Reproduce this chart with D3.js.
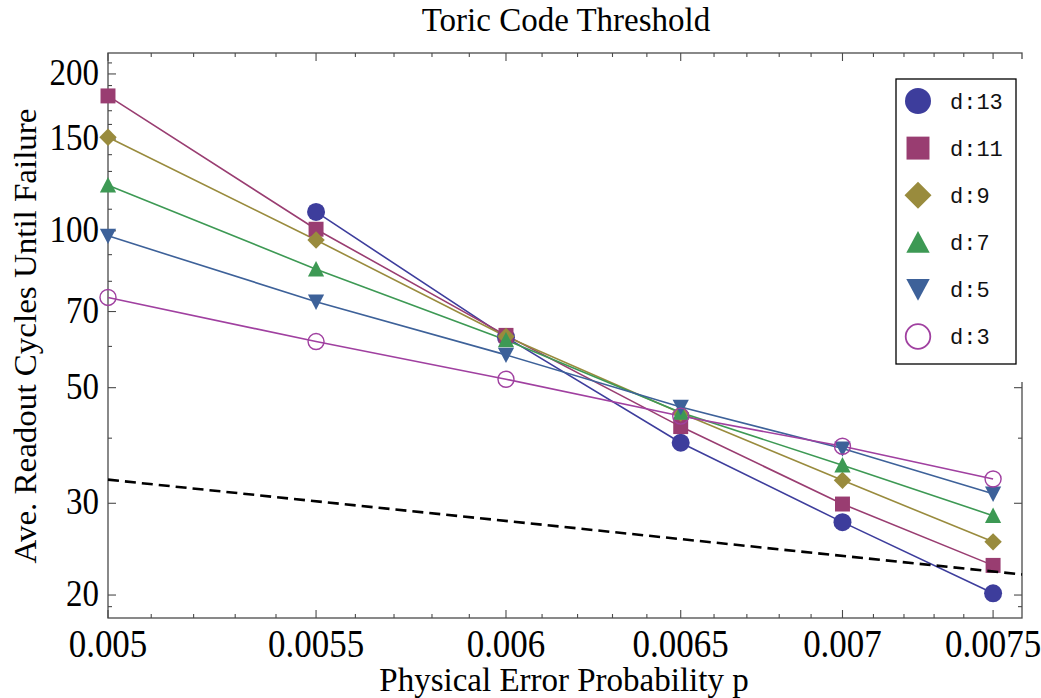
<!DOCTYPE html>
<html>
<head>
<meta charset="utf-8">
<script src="https://cdn.jsdelivr.net/npm/d3@7"></script>
<style>
  html, body { margin: 0; padding: 0; background: #fff; }
  svg { display: block; }
</style>
</head>
<body>
<svg id="chart" width="1041" height="698"></svg>
<script>
// ---------------- data ----------------
const pValues = [0.005, 0.0055, 0.006, 0.0065, 0.007, 0.0075];
const d13 = [null, 108.7, 62.5, 39.2, 27.6, 20.15];
const d11 = [181.5, 100.7, 63.0, 42.1, 29.9, 22.8];
const d9  = [151.2, 96.0, 62.7, 44.7, 33.2, 25.3];
const d7  = [122.3, 84.4, 61.7, 44.8, 35.5, 28.4];
const d5  = [97.8, 73.1, 57.8, 45.9, 38.2, 31.3];
const d3v = [74.5, 61.3, 51.9, 44.1, 38.6, 33.4];
const seriesNames = ["d:13", "d:11", "d:9", "d:7", "d:5", "d:3"];
const refP = [0.005, 0.0076];
const refV = [33.3, 21.9];
const xTickLabels = ["0.005", "0.0055", "0.006", "0.0065", "0.007", "0.0075"];
const xMajor = [0.005, 0.0055, 0.006, 0.0065, 0.007, 0.0075];
const xMinor = [0.0051,0.0052,0.0053,0.0054,0.0056,0.0057,0.0058,0.0059,0.0061,0.0062,0.0063,0.0064,0.0066,0.0067,0.0068,0.0069,0.0071,0.0072,0.0073,0.0074];
const yMajor = [20, 30, 50, 70, 100, 150, 200];
const yTickLabels = ["20", "30", "50", "70", "100", "150", "200"];
const yMinor = [19, 40, 60, 80, 90, 110, 120, 130, 140, 160, 170, 180, 190, 210];
const xDomain = [0.005, 0.0076];
const yDomain = [18.07, 219.4];

// ---------------- layout ----------------
const L = 108, R = 1022, T = 53, B = 618;
const svg = d3.select("#chart");
const x = d3.scaleLog().domain(xDomain).range([L, R]);
const y = d3.scaleLog().domain(yDomain).range([B, T]);

const colors = ["#3d3d9c", "#993d71", "#998b3d", "#3d9954", "#3d6199", "#a040a0"];
const shapes = ["circle", "square", "diamond", "up", "down", "open"];
const allSeries = [d13, d11, d9, d7, d5, d3v];

function markerPath(shape, s) {
  const p = d3.path();
  if (shape === "circle" || shape === "open") {
    p.arc(0, 0, s, 0, 2 * Math.PI);
  } else if (shape === "square") {
    const h = s * 0.85;
    p.rect(-h, -h, 2 * h, 2 * h);
  } else if (shape === "diamond") {
    p.moveTo(0, -s); p.lineTo(s, 0); p.lineTo(0, s); p.lineTo(-s, 0); p.closePath();
  } else if (shape === "up") {
    const w = s * 0.9, h = s * 0.8;
    p.moveTo(0, -h - 1); p.lineTo(w, h); p.lineTo(-w, h); p.closePath();
  } else if (shape === "down") {
    const w = s * 0.9, h = s * 0.8;
    p.moveTo(-w, -h); p.lineTo(w, -h); p.lineTo(0, h + 1); p.closePath();
  }
  return p.toString();
}
function drawMarker(g, shape, color, cx, cy, s) {
  const el = g.append("path")
    .attr("d", markerPath(shape, s))
    .attr("transform", `translate(${cx},${cy})`);
  if (shape === "open") {
    el.attr("fill", "none").attr("stroke", color).attr("stroke-width", s > 10 ? 1.8 : 1.4);
  } else {
    el.attr("fill", color);
  }
}

const serif = "'Liberation Serif', 'Times New Roman', serif";
const frameColor = "#4a4a4a";

// ---------------- frame + ticks ----------------
svg.append("rect").attr("x", L).attr("y", T).attr("width", R - L).attr("height", B - T)
  .attr("fill", "none").attr("stroke", frameColor).attr("stroke-width", 1.3);

const tickG = svg.append("g").attr("stroke", frameColor).attr("stroke-width", 1.1);
xMajor.forEach(v => {
  tickG.append("line").attr("x1", x(v)).attr("x2", x(v)).attr("y1", B).attr("y2", B - 8);
  tickG.append("line").attr("x1", x(v)).attr("x2", x(v)).attr("y1", T).attr("y2", T + 8);
});
xMinor.forEach(v => {
  tickG.append("line").attr("x1", x(v)).attr("x2", x(v)).attr("y1", B).attr("y2", B - 4);
  tickG.append("line").attr("x1", x(v)).attr("x2", x(v)).attr("y1", T).attr("y2", T + 4);
});
yMajor.forEach(v => {
  tickG.append("line").attr("x1", L).attr("x2", L + 8).attr("y1", y(v)).attr("y2", y(v));
  tickG.append("line").attr("x1", R).attr("x2", R - 8).attr("y1", y(v)).attr("y2", y(v));
});
yMinor.forEach(v => {
  tickG.append("line").attr("x1", L).attr("x2", L + 4).attr("y1", y(v)).attr("y2", y(v));
  tickG.append("line").attr("x1", R).attr("x2", R - 4).attr("y1", y(v)).attr("y2", y(v));
});

// tick labels (slightly tall, as in the reference)
xMajor.forEach((v, i) => {
  svg.append("text").attr("transform", `translate(${x(v)},657) scale(1,1.12)`)
    .attr("text-anchor", "middle").attr("font-family", serif).attr("font-size", 35)
    .attr("fill", "#000").text(xTickLabels[i]);
});
yMajor.forEach((v, i) => {
  svg.append("text").attr("transform", `translate(99,${y(v) + 11}) scale(1,1.12)`)
    .attr("text-anchor", "end").attr("font-family", serif).attr("font-size", 33)
    .attr("fill", "#000").text(yTickLabels[i]);
});

// titles
svg.append("text").attr("x", 566).attr("y", 31).attr("text-anchor", "middle")
  .attr("font-family", serif).attr("font-size", 33).text("Toric Code Threshold");
svg.append("text").attr("x", 564).attr("y", 691).attr("text-anchor", "middle")
  .attr("font-family", serif).attr("font-size", 33).text("Physical Error Probability p");
svg.append("text").attr("transform", "translate(36,336) rotate(-90)").attr("text-anchor", "middle")
  .attr("font-family", serif).attr("font-size", 31)
  .attr("textLength", 455).attr("lengthAdjust", "spacingAndGlyphs")
  .text("Ave. Readout Cycles Until Failure");

// ---------------- series ----------------
const line = d3.line().defined(d => d[1] != null).x(d => x(d[0])).y(d => y(d[1]));
const plotG = svg.append("g");
allSeries.forEach((vals, i) => {
  const pts = pValues.map((p, j) => [p, vals[j]]);
  plotG.append("path").attr("d", line(pts)).attr("fill", "none")
    .attr("stroke", colors[i]).attr("stroke-width", 1.6);
});
allSeries.forEach((vals, i) => {
  const sz = {circle: 9, square: 8.8, diamond: 8.7, up: 9, down: 9, open: 8}[shapes[i]];
  pValues.forEach((p, j) => {
    if (vals[j] == null) return;
    drawMarker(plotG, shapes[i], colors[i], x(p), y(vals[j]), sz);
  });
});

// reference dashed line
svg.append("path").attr("d", line(refP.map((p, j) => [p, refV[j]])))
  .attr("fill", "none").attr("stroke", "#000").attr("stroke-width", 2.6)
  .attr("stroke-dasharray", "11,6");

// ---------------- legend ----------------
const lg = svg.append("g");
lg.append("rect").attr("x", 884).attr("y", 59).attr("width", 145).attr("height", 323).attr("fill", "#fff");
lg.append("rect").attr("x", 896).attr("y", 79).attr("width", 120).attr("height", 285)
  .attr("fill", "#fff").attr("stroke", "#000").attr("stroke-width", 1.3);
seriesNames.forEach((name, i) => {
  const cy = 101 + i * 47.1;
  const sz = {circle: 13, square: 13.5, diamond: 13.5, up: 13, down: 13, open: 12.3}[shapes[i]];
  drawMarker(lg, shapes[i], colors[i], 918, cy, sz);
  lg.append("text").attr("x", 950).attr("y", cy).attr("dy", "0.36em")
    .attr("font-family", "'Liberation Mono', 'Courier New', monospace").attr("font-size", 22)
    .attr("fill", "#111").text(name);
});
</script>
</body>
</html>
